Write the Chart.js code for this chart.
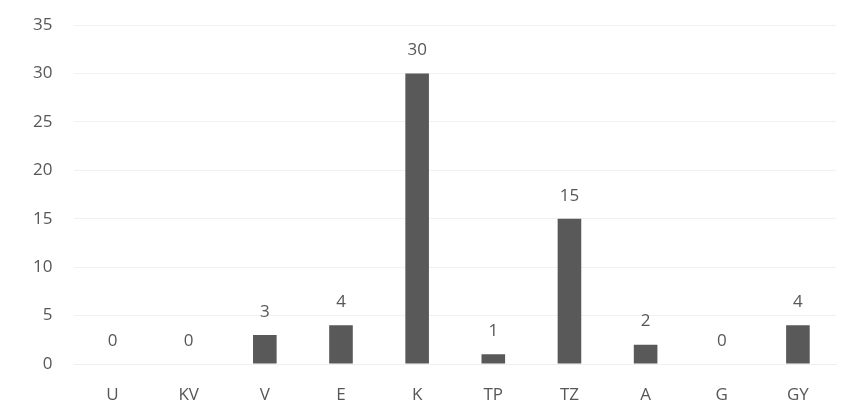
<!DOCTYPE html>
<html>
<head>
<meta charset="utf-8">
<script src="https://cdn.jsdelivr.net/npm/chart.js@4"></script>
<style>
  html, body { margin: 0; padding: 0; background: #fff; }
  #wrap { width: 853px; height: 415px; }
</style>
</head>
<body>
<div id="wrap"><canvas id="chart"></canvas></div>
<script>
const categories = ['U', 'KV', 'V', 'E', 'K', 'TP', 'TZ', 'A', 'G', 'GY'];
const counts = [0, 0, 3, 4, 30, 1, 15, 2, 0, 4];

const textColor = '#575757';
const fontFamily = '"Open Sans", "Noto Sans", sans-serif';
const fontSize = 17;

// value labels above each bar (Excel style)
const valueLabels = {
    id: 'valueLabels',
    afterDatasetsDraw(chart) {
        const ctx = chart.ctx;
        const meta = chart.getDatasetMeta(0);
        ctx.save();
        ctx.font = fontSize + 'px ' + fontFamily;
        ctx.fillStyle = textColor;
        ctx.textAlign = 'center';
        ctx.textBaseline = 'middle';
        meta.data.forEach((bar, i) => {
            ctx.fillText(String(counts[i]), bar.x, bar.y - 23);
        });
        ctx.restore();
    }
};

new Chart(document.getElementById('chart'), {
    type: 'bar',
    data: {
        labels: categories,
        datasets: [{
            data: counts,
            backgroundColor: '#595959',
            borderWidth: 0,
            categoryPercentage: 1,
            barPercentage: 0.31
        }]
    },
    options: {
        responsive: true,
        maintainAspectRatio: false,
        animation: false,
        layout: { padding: { left: 11, right: 17, top: 0, bottom: 0 } },
        plugins: {
            legend: { display: false },
            tooltip: { enabled: false }
        },
        scales: {
            x: {
                grid: { display: false, drawTicks: false },
                border: { display: true, color: '#efefef' },
                ticks: { color: textColor, font: { size: fontSize, family: fontFamily }, padding: 21 },
                // keep the axis band fixed so the baseline sits where the reference has it
                afterFit(scale) { scale.height = 51; }
            },
            y: {
                min: 0,
                max: 35,
                ticks: { stepSize: 5, color: textColor, font: { size: fontSize, family: fontFamily }, padding: 22 },
                grid: { color: '#f1f1f1', drawTicks: false },
                border: { display: false },
                // the tick padding is also added above the top label; trim it back
                afterFit(scale) { scale.paddingTop = 25; }
            }
        }
    },
    plugins: [valueLabels]
});
</script>
</body>
</html>
